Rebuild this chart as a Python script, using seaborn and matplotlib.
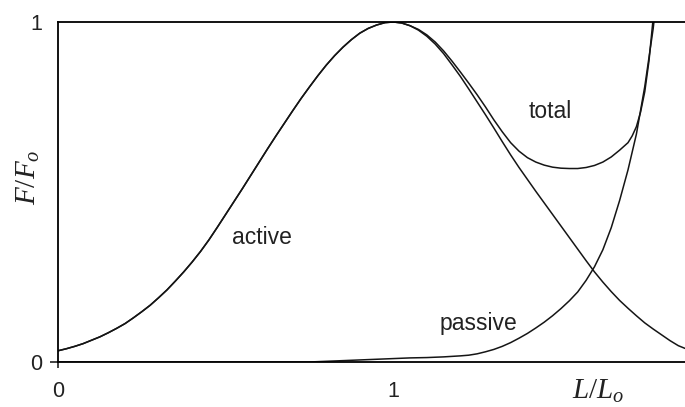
import matplotlib
matplotlib.use("Agg")
import matplotlib.pyplot as plt
import seaborn as sns

# Curves (x = L/Lo, y = F/Fo)
x_active = [0.000, 0.025, 0.050, 0.075, 0.100, 0.125, 0.150, 0.175, 0.200, 0.225,
            0.250, 0.275, 0.300, 0.325, 0.350, 0.375, 0.400, 0.425, 0.450, 0.475,
            0.500, 0.525, 0.550, 0.575, 0.600, 0.625, 0.650, 0.675, 0.700, 0.725,
            0.750, 0.775, 0.800, 0.825, 0.850, 0.875, 0.900, 0.925, 0.950, 0.975,
            1.000, 1.025, 1.050, 1.075, 1.100, 1.125, 1.150, 1.175, 1.200, 1.225,
            1.250, 1.275, 1.300, 1.325, 1.350, 1.375, 1.400, 1.425, 1.450, 1.475,
            1.500, 1.525, 1.550, 1.575, 1.600, 1.625, 1.650, 1.675, 1.700, 1.725,
            1.750, 1.775, 1.800, 1.825, 1.850, 1.870]
active = [0.033, 0.039, 0.046, 0.054, 0.064, 0.074, 0.086, 0.099, 0.113, 0.130,
          0.148, 0.167, 0.189, 0.212, 0.238, 0.265, 0.294, 0.325, 0.359, 0.396,
          0.434, 0.472, 0.510, 0.549, 0.588, 0.627, 0.665, 0.702, 0.739, 0.775,
          0.809, 0.842, 0.873, 0.901, 0.926, 0.948, 0.967, 0.981, 0.991, 0.998,
          1.000, 0.997, 0.989, 0.976, 0.958, 0.935, 0.907, 0.874, 0.840, 0.803,
          0.765, 0.727, 0.688, 0.648, 0.609, 0.572, 0.537, 0.502, 0.468, 0.434,
          0.400, 0.366, 0.332, 0.298, 0.265, 0.235, 0.207, 0.181, 0.158, 0.136,
          0.115, 0.097, 0.080, 0.063, 0.048, 0.040]

x_passive = [0.00, 0.75, 0.80, 0.85, 0.90, 0.95, 1.00, 1.05, 1.10, 1.15,
             1.200, 1.225, 1.250, 1.275, 1.300, 1.325, 1.350, 1.375, 1.400, 1.425,
             1.450, 1.475, 1.500, 1.525, 1.550, 1.575, 1.600, 1.625, 1.650, 1.675,
             1.700, 1.725, 1.750, 1.775, 1.800]
passive = [0.000, 0.000, 0.002, 0.004, 0.006, 0.008, 0.010, 0.012, 0.013, 0.015,
           0.018, 0.020, 0.024, 0.030, 0.037, 0.046, 0.057, 0.070, 0.084, 0.100,
           0.117, 0.136, 0.157, 0.180, 0.206, 0.240, 0.280, 0.330, 0.395, 0.475,
           0.565, 0.670, 0.810, 0.980, 1.200]

# total runs on top of the active curve up to L/Lo = 1.05
x_total = x_active[:43] + [
    1.075, 1.100, 1.125, 1.150, 1.175, 1.200, 1.225, 1.250, 1.275, 1.300,
    1.325, 1.350, 1.375, 1.400, 1.425, 1.450, 1.475, 1.500, 1.525, 1.550,
    1.575, 1.600, 1.625, 1.650, 1.675, 1.700, 1.7125, 1.725, 1.7375, 1.750,
    1.7625, 1.775, 1.800]
total = active[:43] + [
    0.978, 0.962, 0.941, 0.915, 0.885, 0.853, 0.820, 0.786, 0.750, 0.712,
    0.677, 0.645, 0.620, 0.601, 0.588, 0.579, 0.573, 0.570, 0.569, 0.569,
    0.572, 0.578, 0.588, 0.603, 0.623, 0.645, 0.665, 0.692, 0.735, 0.795,
    0.885, 1.010, 1.350]

tick_labels = ["0", "1"]
curve_names = ["active", "passive", "total"]

sns.set_style("white")
plt.rcParams["font.family"] = ["Liberation Sans", "DejaVu Sans"]
plt.rcParams["mathtext.fontset"] = "custom"
plt.rcParams["mathtext.rm"] = "Liberation Serif"
plt.rcParams["mathtext.it"] = "Liberation Serif:italic"

fig = plt.figure(figsize=(6.85, 4.07), dpi=100)
ax = fig.add_axes([0.0847, 0.1106, 0.9153, 0.8354])

line_kw = dict(color="#151515", linewidth=1.1, sort=False, estimator=None, ax=ax)
sns.lineplot(x=x_active, y=active, **line_kw)
sns.lineplot(x=x_passive, y=passive, **line_kw)
sns.lineplot(x=x_total, y=total, **line_kw)

ax.set_xlim(0, 1.87)
ax.set_ylim(0, 1)

for side in ["left", "top", "bottom"]:
    ax.spines[side].set_visible(True)
    ax.spines[side].set_color("black")
    ax.spines[side].set_linewidth(1.3)
ax.spines["right"].set_visible(False)

ax.set_xticks([0, 1], tick_labels)
ax.set_yticks([0, 1], tick_labels)
ax.tick_params(axis="x", direction="out", length=4.5, width=1.2, pad=9,
               labelsize=15.5, colors="#222222", bottom=True)
ax.tick_params(axis="y", direction="out", length=6, width=1.2, pad=5,
               labelsize=15.5, colors="#222222", left=True)
# only the origin carries tick marks
ax.xaxis.get_major_ticks()[1].tick1line.set_visible(False)
ax.yaxis.get_major_ticks()[1].tick1line.set_visible(False)

ax.set_xlabel(r"$L/L_o$", fontsize=21, color="#222222")
ax.xaxis.set_label_coords(0.861, -0.045)
ax.set_ylabel(r"$F/F_o$", fontsize=21, color="#222222")
ax.yaxis.set_label_coords(-0.026, 0.544)

ax.text(0.52, 0.346, curve_names[0], fontsize=16.5, color="#222222",
        ha="left", va="baseline")
ax.text(1.137, 0.094, curve_names[1], fontsize=16.5, color="#222222",
        ha="left", va="baseline")
ax.text(1.403, 0.717, curve_names[2], fontsize=16.5, color="#222222",
        ha="left", va="baseline")

fig.savefig("out.png", dpi=100)
